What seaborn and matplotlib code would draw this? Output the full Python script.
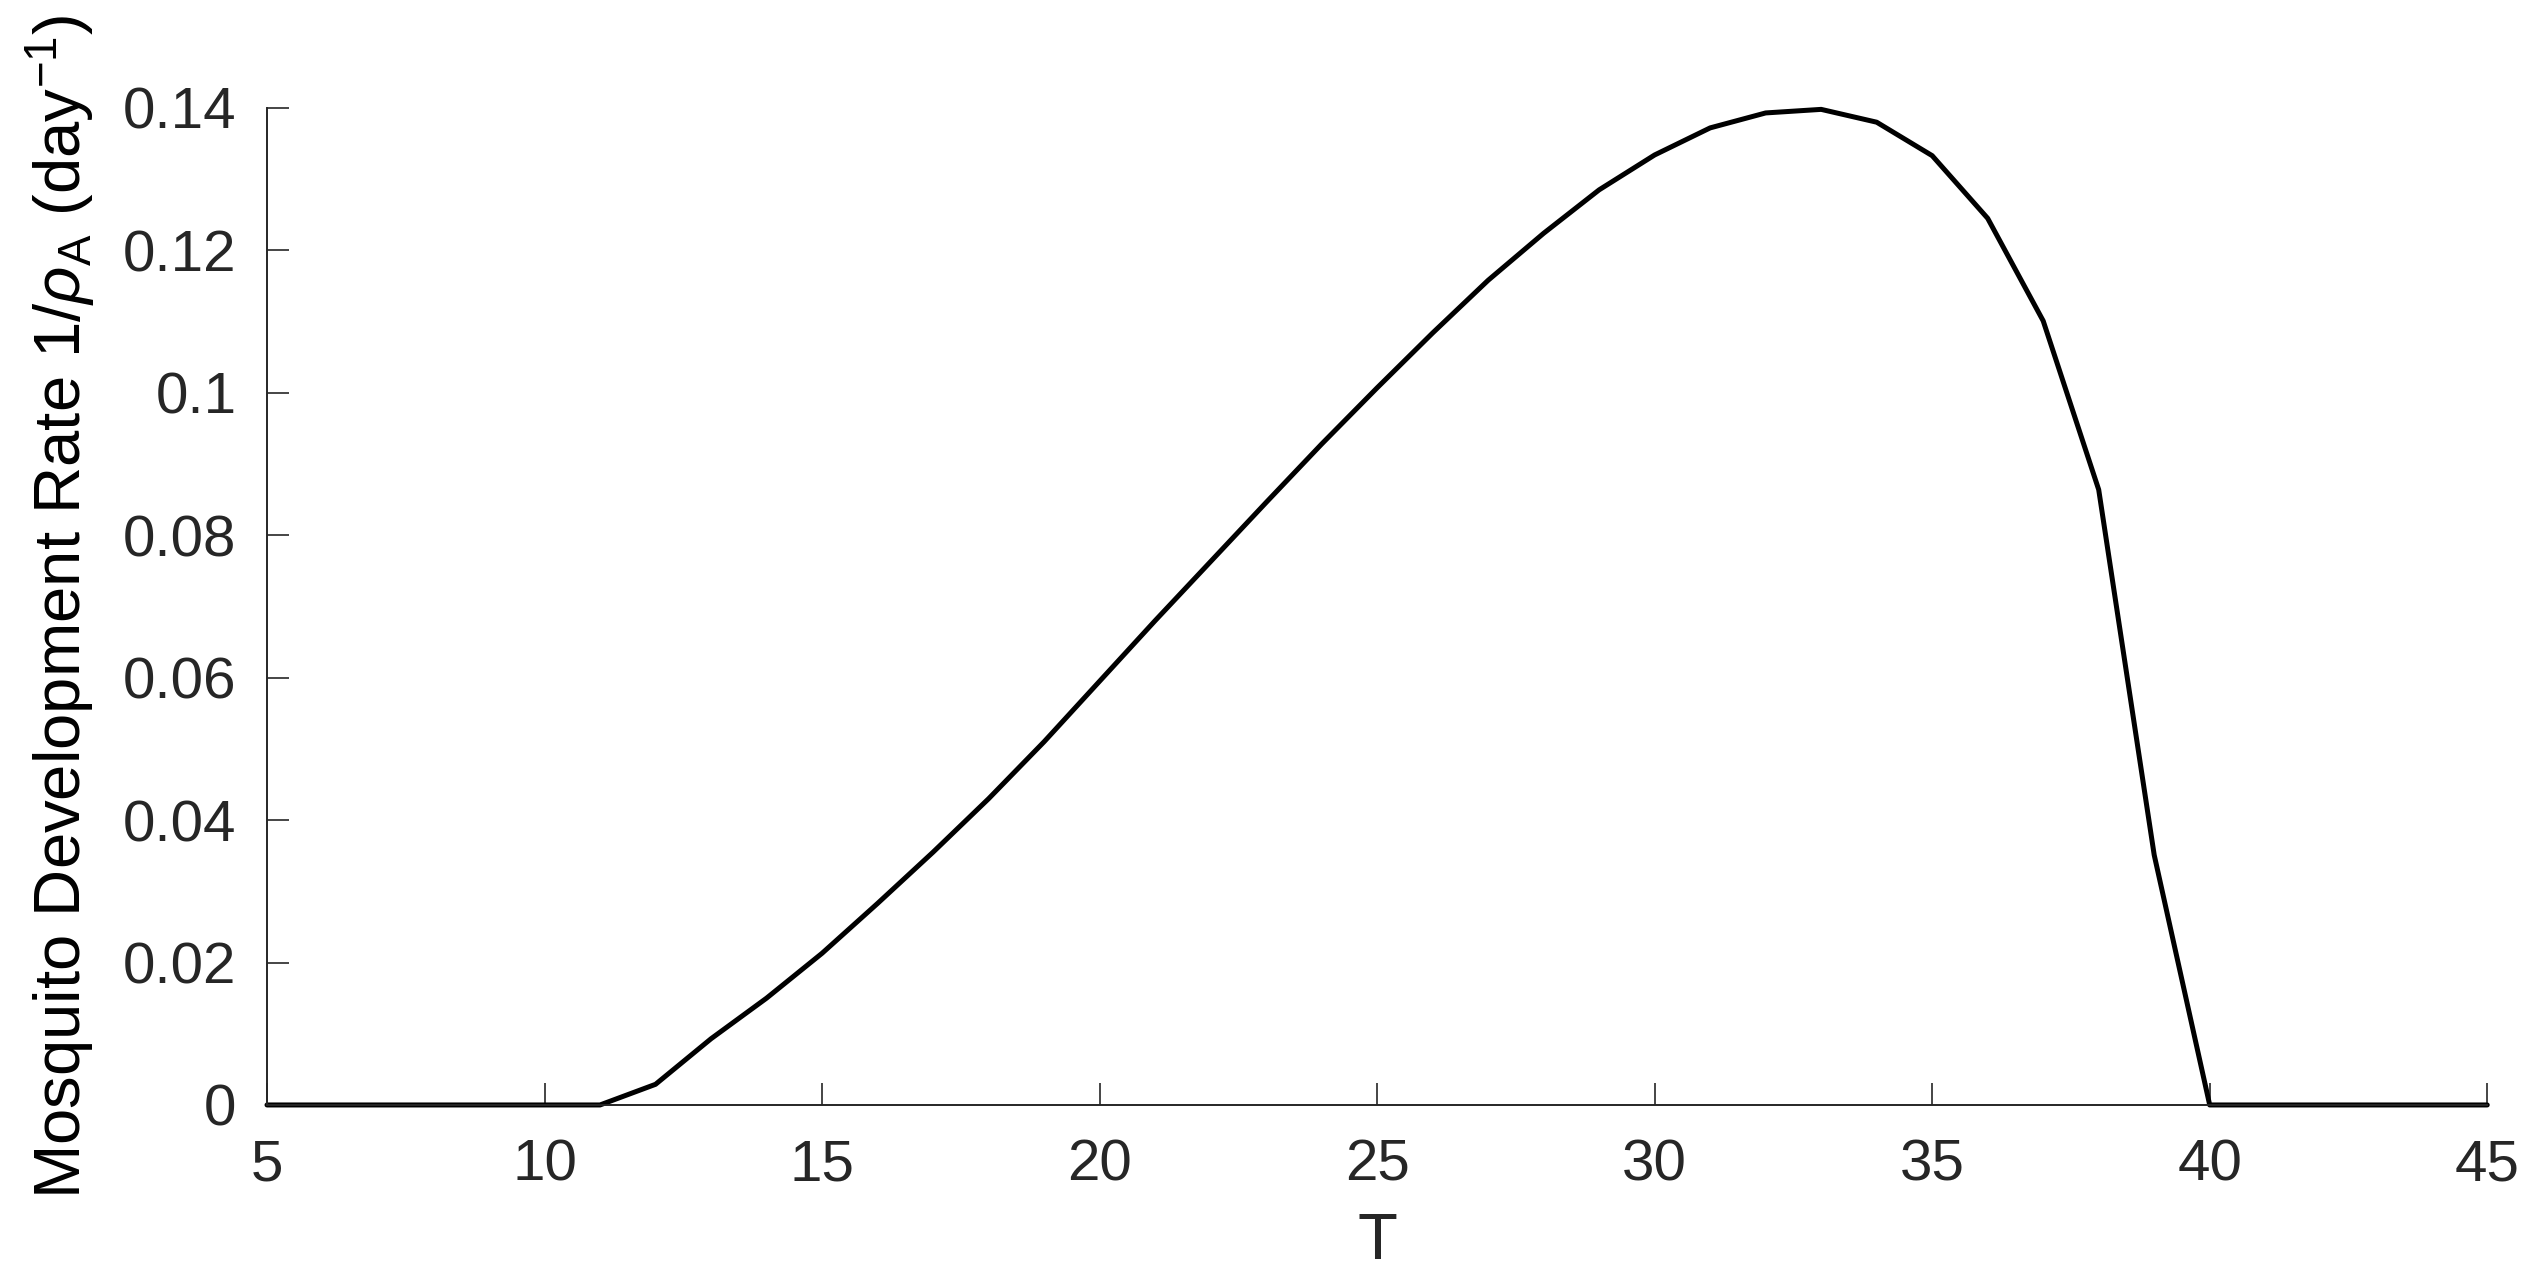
import matplotlib
matplotlib.use("Agg")
import matplotlib.pyplot as plt
import pandas as pd
import seaborn as sns

# Temperature (integer steps) and development rate
temperature = list(range(5, 46))
rate = [0, 0, 0, 0, 0, 0, 0,                      # 5 - 11
        0.0029, 0.0093, 0.0150, 0.0213, 0.0283,   # 12 - 16
        0.0355, 0.0430, 0.0510, 0.0595, 0.0680,   # 17 - 21
        0.0763, 0.0846, 0.0928, 0.1007, 0.1084,   # 22 - 26
        0.1158, 0.1224, 0.1285, 0.1334, 0.1372,   # 27 - 31
        0.1393, 0.1398, 0.1380, 0.1333, 0.1245,   # 32 - 36
        0.1101, 0.0864, 0.0351, 0,                # 37 - 40
        0, 0, 0, 0, 0]                            # 41 - 45

x_ticks = [5, 10, 15, 20, 25, 30, 35, 40, 45]
y_ticks = [0, 0.02, 0.04, 0.06, 0.08, 0.1, 0.12, 0.14]
y_tick_labels = ['0', '0.02', '0.04', '0.06', '0.08', '0.1', '0.12', '0.14']

df = pd.DataFrame({'T': temperature, 'rate': rate})

sns.set_style('ticks')
plt.rcParams['font.family'] = ['Liberation Sans', 'DejaVu Sans']
plt.rcParams['mathtext.fontset'] = 'custom'
plt.rcParams['mathtext.rm'] = 'Liberation Sans'
plt.rcParams['mathtext.it'] = 'Liberation Sans:italic'
plt.rcParams['mathtext.sf'] = 'Liberation Sans'

axis_col = '#262626'

fig = plt.figure(figsize=(12.69, 6.365), dpi=200)
ax = fig.add_axes([0.1052, 0.132, 0.8748, 0.7832])

sns.lineplot(data=df, x='T', y='rate', color='black', linewidth=1.8, ax=ax)
ax.lines[0].set_clip_on(False)

ax.set_xlim(5, 45)
ax.set_ylim(0, 0.14)
ax.set_xticks(x_ticks)
ax.set_yticks(y_ticks)
ax.set_yticklabels(y_tick_labels)

for side in ['top', 'right']:
    ax.spines[side].set_visible(False)
for side in ['left', 'bottom']:
    ax.spines[side].set_color(axis_col)
    ax.spines[side].set_linewidth(0.7)

ax.tick_params(direction='in', length=8, width=0.6, color=axis_col,
               labelsize=21, labelcolor=axis_col)
ax.tick_params(axis='x', pad=12)
ax.tick_params(axis='y', pad=11)

ax.set_xlabel('T', fontsize=23.5, color=axis_col, labelpad=7)
ax.set_ylabel(r'Mosquito Development Rate 1/$\rho_\mathrm{A}$ (day$^{-1}$)',
              fontsize=23.5, color='black', labelpad=9)

fig.savefig('out.png', dpi=200, facecolor='white')
